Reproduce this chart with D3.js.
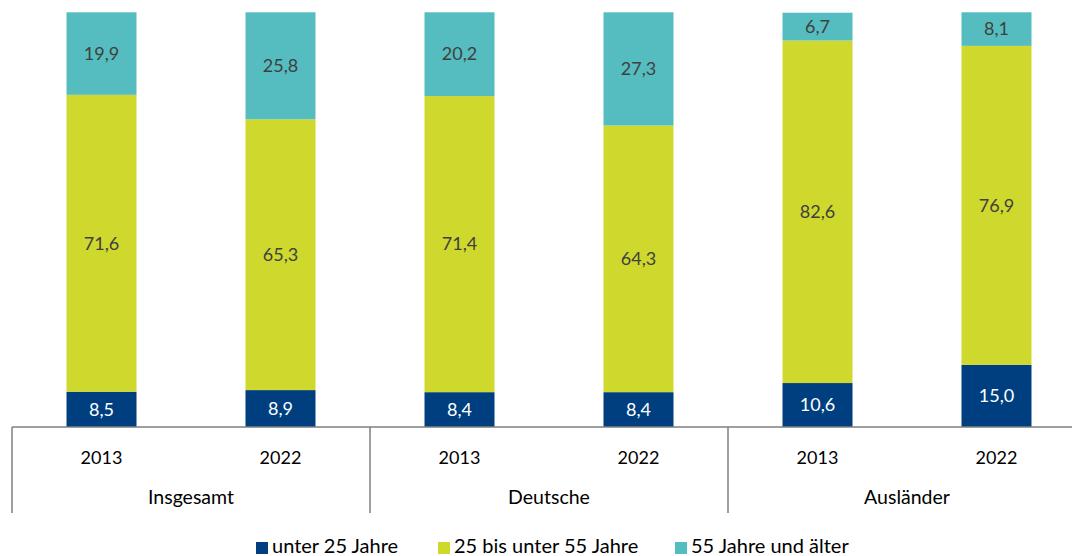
<!DOCTYPE html>
<html>
<head>
<meta charset="utf-8">
<script src="https://cdn.jsdelivr.net/npm/d3@7"></script>
<style>
  body { margin: 0; background: #fff; }
  svg { display: block; font-family: Lato, "Noto Sans", sans-serif; }
</style>
</head>
<body>
<script>
// Data
var groups = ["Insgesamt", "Deutsche", "Ausländer"];
var years = ["2013", "2022"];
var seriesNames = ["unter 25 Jahre", "25 bis unter 55 Jahre", "55 Jahre und älter"];
var seriesColors = ["#003f7f", "#cfd82c", "#55bdbf"];
var labelColors = ["#ffffff", "#404040", "#404040"];

var under25 = [8.5, 8.9, 8.4, 8.4, 10.6, 15.0];
var age25to55 = [71.6, 65.3, 71.4, 64.3, 82.6, 76.9];
var age55plus = [19.9, 25.8, 20.2, 27.3, 6.7, 8.1];

var width = 1072, height = 556;
var plotLeft = 12, groupWidth = 358;
var plotTop = 12.3, plotBottom = 427;

var svg = d3.select("body").append("svg")
    .attr("width", width)
    .attr("height", height);

// one band per bar, grouped by category
var bars = [];
groups.forEach(function (g, gi) {
    years.forEach(function (y, yi) {
        bars.push({ key: g + "|" + y, group: g, year: y, i: gi * years.length + yi });
    });
});

var x = d3.scaleBand()
    .domain(bars.map(function (d) { return d.key; }))
    .range([plotLeft, plotLeft + groupWidth * groups.length])
    .paddingInner(0.609)
    .paddingOuter(0.3045);

var yScale = d3.scaleLinear().domain([0, 100]).range([plotBottom, plotTop]);

var seriesData = [under25, age25to55, age55plus];
var table = bars.map(function (b) {
    var row = { key: b.key };
    seriesData.forEach(function (s, si) { row["s" + si] = s[b.i]; });
    return row;
});

var stacked = d3.stack().keys(["s0", "s1", "s2"])(table);

var layers = svg.append("g").selectAll("g")
    .data(stacked)
    .enter().append("g")
    .attr("fill", function (d, i) { return seriesColors[i]; });

layers.selectAll("rect")
    .data(function (d) { return d; })
    .enter().append("rect")
    .attr("x", function (d) { return x(d.data.key); })
    .attr("width", x.bandwidth())
    .attr("y", function (d) { return yScale(d[1]); })
    .attr("height", function (d) { return yScale(d[0]) - yScale(d[1]); });

// value labels
stacked.forEach(function (layer, li) {
    svg.append("g").selectAll("text")
        .data(layer)
        .enter().append("text")
        .attr("x", function (d) { return x(d.data.key) + x.bandwidth() / 2; })
        .attr("y", function (d) { return (yScale(d[0]) + yScale(d[1])) / 2; })
        .attr("dy", "0.35em")
        .attr("text-anchor", "middle")
        .attr("font-size", 18)
        .attr("fill", labelColors[li])
        .text(function (d) { return seriesData[li][table.indexOf(d.data)].toFixed(1).replace(".", ","); });
});

// axis line and category separators
var axisColor = "#7f7f7f";
svg.append("line")
    .attr("x1", plotLeft).attr("x2", plotLeft + groupWidth * groups.length)
    .attr("y1", plotBottom).attr("y2", plotBottom)
    .attr("stroke", axisColor).attr("stroke-width", 1.5);

svg.append("g").selectAll("line")
    .data(d3.range(groups.length + 1))
    .enter().append("line")
    .attr("x1", function (d) { return plotLeft + d * groupWidth; })
    .attr("x2", function (d) { return plotLeft + d * groupWidth; })
    .attr("y1", plotBottom).attr("y2", 513)
    .attr("stroke", axisColor).attr("stroke-width", 1.5);

// year labels
svg.append("g").selectAll("text")
    .data(bars)
    .enter().append("text")
    .attr("x", function (d) { return x(d.key) + x.bandwidth() / 2; })
    .attr("y", 458)
    .attr("dy", "0.35em")
    .attr("text-anchor", "middle")
    .attr("font-size", 18)
    .attr("fill", "#000")
    .text(function (d) { return d.year; });

// group labels
svg.append("g").selectAll("text")
    .data(groups)
    .enter().append("text")
    .attr("x", function (d, i) { return plotLeft + i * groupWidth + groupWidth / 2; })
    .attr("y", 497)
    .attr("dy", "0.35em")
    .attr("text-anchor", "middle")
    .attr("font-size", 19.5)
    .attr("fill", "#000")
    .text(function (d) { return d; });

// legend
var legendX = [256, 438, 675];
var legend = svg.append("g").selectAll("g")
    .data(seriesNames)
    .enter().append("g")
    .attr("transform", function (d, i) { return "translate(" + legendX[i] + ",0)"; });

legend.append("rect")
    .attr("y", 542).attr("width", 12).attr("height", 12)
    .attr("fill", function (d, i) { return seriesColors[i]; });

legend.append("text")
    .attr("x", 16).attr("y", 553)
    .attr("font-size", 20)
    .attr("fill", "#000")
    .text(function (d) { return d; });
</script>
</body>
</html>
